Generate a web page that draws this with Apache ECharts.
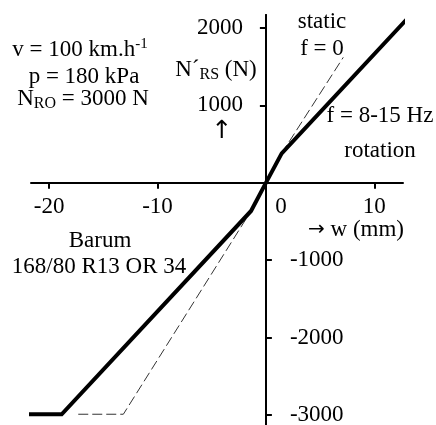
<!DOCTYPE html>
<html>
<head>
<meta charset="utf-8">
<script src="https://cdn.jsdelivr.net/npm/echarts@6/dist/echarts.min.js"></script>
<style>html,body{margin:0;padding:0;background:#fff}#c{width:436px;height:425px}</style>
</head>
<body>
<div id="c"></div>
<script>
// Data (w in mm, N'RS in N)
const rotationW = [-22.99, -18.84, -1.37, 0, 1.46, 13.36];
const rotationN = [-2990, -2990, -364, 0, 381, 2168];
const staticW = [-17.31, -13.15, -1.37, 0, 1.46, 7.14];
const staticN = [-2990, -2990, -364, 0, 381, 1621];
const xTicks = [-20, -10, 0, 10];
const yTicksPos = [1000, 2000];
const yTicksNeg = [-1000, -2000, -3000];

const FF = 'Liberation Serif';
const FS = 23;
const W = 436, H = 425;
const G = {left: 31, right: 33, top: 15, bottom: 0};
const chart = echarts.init(document.getElementById('c'), null, {renderer: 'canvas'});

const yMin = -3129, yMax = 2168;
const axisLineStyle = {color: '#000', width: 2};

function txt(text, x, y, rich) {
  return {
    type: 'text', x: x, y: y,
    style: {
      text: text, fill: '#000', font: FS + 'px "' + FF + '"',
      fontFamily: FF, fontSize: FS,
      align: 'center', verticalAlign: 'middle',
      rich: rich || undefined
    }
  };
}
const richBase = {
  a: {fontFamily: FF, fontSize: FS, lineHeight: 26, verticalAlign: 'middle'},
  sup: {fontFamily: FF, fontSize: 15, lineHeight: 14, verticalAlign: 'top'},
  sub: {fontFamily: FF, fontSize: 16, lineHeight: 15, verticalAlign: 'bottom'},
  arr: {fontFamily: 'DejaVu Sans', fontSize: 20, lineHeight: 26, verticalAlign: 'middle'},
  up: {fontFamily: 'DejaVu Sans', fontSize: 25, lineHeight: 28, verticalAlign: 'middle'}
};

chart.setOption({
  animation: false,
  grid: Object.assign({containLabel: false, outerBoundsMode: 'none'}, G),
  xAxis: {
    type: 'value', min: -21.67, max: 12.65,
    axisLine: {onZero: true, lineStyle: axisLineStyle},
    axisTick: {customValues: xTicks, length: 6, lineStyle: {color: '#000', width: 2}},
    axisLabel: {
      customValues: xTicks, margin: 13, color: '#000', fontFamily: FF, fontSize: FS,
      formatter: v => v === 0 ? '{z|0}' : String(v),
      rich: {z: {fontFamily: FF, fontSize: FS, color: '#000', padding: [0, 0, 0, 30]}}
    },
    splitLine: {show: false}
  },
  yAxis: [{
    type: 'value', position: 'left', min: yMin, max: yMax,
    axisLine: {onZero: true, onZeroAxisIndex: 0, lineStyle: axisLineStyle},
    axisTick: {customValues: yTicksPos, length: 6, lineStyle: {color: '#000', width: 2}},
    axisLabel: {customValues: yTicksPos, margin: 23, color: '#000', fontFamily: FF, fontSize: FS, formatter: v => String(v)},
    splitLine: {show: false}
  }, {
    type: 'value', position: 'right', min: yMin, max: yMax,
    axisLine: {show: true, onZero: true, onZeroAxisIndex: 0, lineStyle: axisLineStyle},
    axisTick: {customValues: yTicksNeg, length: 6, lineStyle: {color: '#000', width: 2}},
    axisLabel: {customValues: yTicksNeg, margin: 24, color: '#000', fontFamily: FF, fontSize: FS, formatter: v => String(v)},
    splitLine: {show: false}
  }],
  series: [{
    type: 'line', name: 'static f = 0', clip: false, symbol: 'none', z: 2,
    data: staticW.map((w, i) => [w, staticN[i]]),
    lineStyle: {color: '#333', width: 1, type: [10, 4]}
  }, {
    type: 'line', name: 'rotation', clip: false, symbol: 'none', z: 3,
    data: rotationW.map((w, i) => [w, rotationN[i]]),
    lineStyle: {color: '#000', width: 4, cap: 'round', join: 'miter'}
  }],
  graphic: [
    txt('{a|v = 100 km.h}{sup|-1}', 80, 50, richBase),
    txt('p = 180 kPa', 84, 77),
    txt('{a|N}{sub|RO}{a| = 3000 N}', 83, 99, richBase),
    txt('{a|N´}{sub|RS}{a| (N)}', 216, 70, richBase),
    txt('{up|↑}', 222, 131, richBase),
    txt('static', 322, 22),
    txt('f = 0', 322, 49),
    txt('f = 8-15 Hz', 380, 116),
    txt('rotation', 380, 151),
    txt('{arr|→}{a| w (mm)}', 356, 230, richBase),
    txt('Barum', 100, 241),
    txt('168/80 R13 OR 34', 99, 267)
  ]
});

// Labels of on-zero axes stay at the grid edge; shift them to the crossing point.
const z = chart.convertToPixel({gridIndex: 0}, [0, 0]);
const zx = z[0], zy = z[1];
chart.setOption({
  xAxis: {axisLabel: {margin: 13 - ((H - G.bottom) - zy)}},
  yAxis: [
    {axisLabel: {margin: 23 - (zx - G.left)}},
    {axisLabel: {margin: 24 - ((W - G.right) - zx)}}
  ]
});
</script>
</body>
</html>
